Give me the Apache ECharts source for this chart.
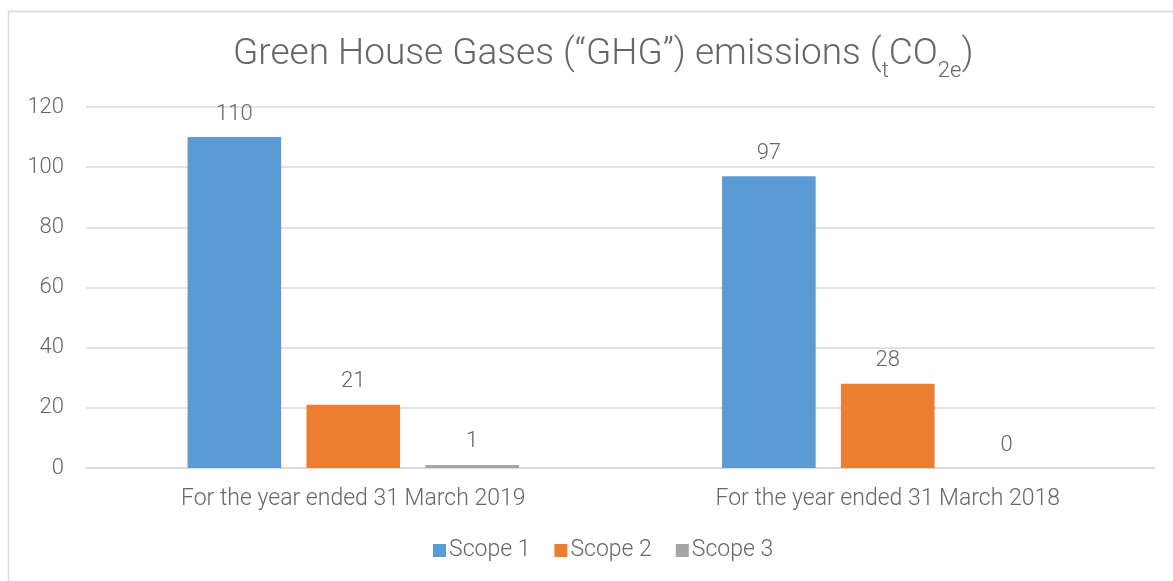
<!DOCTYPE html>
<html>
<head>
<meta charset="utf-8">
<script src="https://cdn.jsdelivr.net/npm/echarts@6/dist/echarts.min.js"></script>
<style>
  html, body { margin: 0; padding: 0; background: #fff; }
  #chart { width: 1173px; height: 581px; }
</style>
</head>
<body>
<div id="chart"></div>
<script>
const categories = ['For the year ended 31 March 2019', 'For the year ended 31 March 2018'];
const scope1 = [110, 97];
const scope2 = [21, 28];
const scope3 = [1, 0];
const seriesNames = ['Scope 1', 'Scope 2', 'Scope 3'];
const colors = ['#5B9BD5', '#ED7D31', '#A5A5A5'];

const textColor = '#666666';
const fontFamily = 'Roboto, "Open Sans", sans-serif';

const chart = echarts.init(document.getElementById('chart'));

const makeSeries = (name, data, color) => ({
  name,
  type: 'bar',
  data,
  barGap: '27%',
  barCategoryGap: '38%',
  itemStyle: { color },
  label: {
    show: true,
    position: 'top',
    distance: 12,
    color: textColor,
    fontSize: 22,
    fontWeight: 300,
    fontFamily
  }
});

chart.setOption({
  animation: false,
  graphic: [{
    type: 'rect',
    shape: { x: 8.5, y: 11.5, width: 1200, height: 600 },
    style: { fill: 'none', stroke: '#d9d9d9', lineWidth: 1.5 },
    silent: true
  }],
  title: {
    text: '{m|Green House Gases (\u201cGHG\u201d) emissions (}{s|t}{m|CO}{s|2e}{m|)}',
    left: 228,
    top: 23,
    textStyle: {
      rich: {
        m: { fontSize: 37, fontWeight: 300, color: textColor, fontFamily },
        s: { fontSize: 22, fontWeight: 300, color: textColor, fontFamily, padding: [32, 0, 0, 0] }
      }
    }
  },
  legend: {
    bottom: 14,
    left: 428,
    itemWidth: 13,
    itemHeight: 13,
    itemGap: 24,
    icon: 'rect',
    textStyle: { color: textColor, fontSize: 23, fontWeight: 300, fontFamily, padding: [0, 0, 0, -2] },
    data: seriesNames
  },
  grid: { left: 86, right: 18, top: 107, bottom: 113 },
  xAxis: {
    type: 'category',
    data: categories,
    axisLine: { lineStyle: { color: '#d9d9d9', width: 1.5 } },
    axisTick: { show: false },
    axisLabel: { color: textColor, fontSize: 23, fontWeight: 300, fontFamily, margin: 20 }
  },
  yAxis: {
    type: 'value',
    min: 0,
    max: 120,
    interval: 20,
    axisLine: { show: false },
    axisTick: { show: false },
    axisLabel: { color: textColor, fontSize: 22, fontWeight: 300, fontFamily, margin: 22 },
    splitLine: { lineStyle: { color: '#d9d9d9', width: 1.5 } }
  },
  series: [
    makeSeries(seriesNames[0], scope1, colors[0]),
    makeSeries(seriesNames[1], scope2, colors[1]),
    makeSeries(seriesNames[2], scope3, colors[2])
  ]
});
</script>
</body>
</html>
